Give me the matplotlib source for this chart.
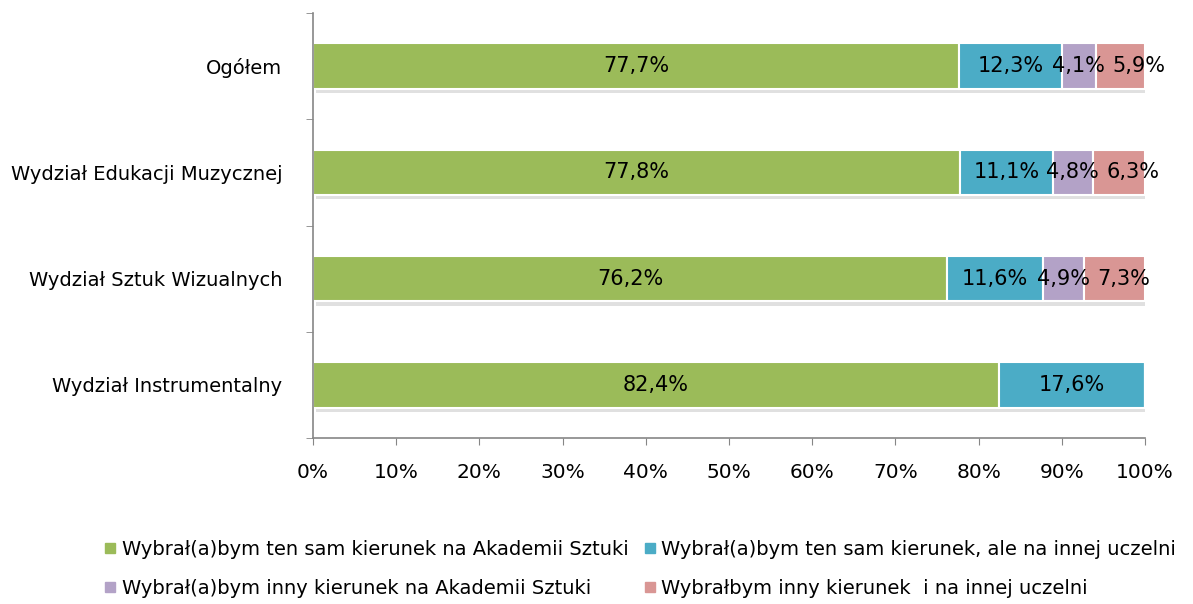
import matplotlib.pyplot as plt
from matplotlib.lines import Line2D
import matplotlib.patheffects as pe
import numpy as np

# dane
kategorie = ['Ogółem', 'Wydział Edukacji Muzycznej', 'Wydział Sztuk Wizualnych', 'Wydział Instrumentalny']
ten_sam_as = [77.7, 77.8, 76.2, 82.4]
ten_sam_inna = [12.3, 11.1, 11.6, 17.6]
inny_as = [4.1, 4.8, 4.9, 0]
inny_inna = [5.9, 6.3, 7.3, 0]

serie = [
    ('Wybrał(a)bym ten sam kierunek na Akademii Sztuki', ten_sam_as, '#9BBB59'),
    ('Wybrał(a)bym ten sam kierunek, ale na innej uczelni', ten_sam_inna, '#4BACC6'),
    ('Wybrał(a)bym inny kierunek na Akademii Sztuki', inny_as, '#B3A2C7'),
    ('Wybrałbym inny kierunek  i na innej uczelni', inny_inna, '#D99694'),
]

plt.rcParams['font.family'] = 'DejaVu Sans'
fig = plt.figure(figsize=(11.93, 6.04), dpi=100)
ax = fig.add_axes([313 / 1193, 1 - 438 / 604, (1145 - 313) / 1193, (438 - 13) / 604])

y = np.arange(len(kategorie))[::-1]
left = np.zeros(len(kategorie))
ostatni_x = np.full(len(kategorie), -100.0)  # pozycja poprzedniej etykiety w wierszu
uchwyty = []
for nazwa, wart, kolor in serie:
    wart = np.array(wart)
    ax.barh(y, wart, left=left, height=0.43, color=kolor, edgecolor='white', linewidth=1.5,
            path_effects=[pe.SimplePatchShadow(offset=(2, -3), alpha=0.12, shadow_rgbFace='black'), pe.Normal()])
    for i, (yi, l, w) in enumerate(zip(y, left, wart)):
        if w > 0:
            xt = max(l + w / 2, ostatni_x[i] + 7.2)  # odsuwanie nachodzacych etykiet
            ax.text(xt, yi, f'{w:.1f}%'.replace('.', ','), ha='center', va='center', fontsize=15, color='black')
            ostatni_x[i] = xt
    left += wart
    uchwyty.append(Line2D([], [], marker='s', color=kolor, linestyle='', markersize=7, label=nazwa))

ax.set_xlim(0, 100)
ax.set_ylim(-0.5, len(kategorie) - 0.5)
ax.set_xticks(np.arange(0, 101, 10))
ax.set_xticklabels([f'{v}%' for v in range(0, 101, 10)], fontsize=14.5)
ax.set_yticks(y)
ax.set_yticklabels(kategorie, fontsize=14)
ax.set_yticks(np.arange(-0.5, len(kategorie), 1), minor=True)
ax.tick_params(axis='y', which='major', length=0, pad=22)
ax.tick_params(axis='y', which='minor', length=5, color='#868686')
ax.tick_params(axis='x', length=5, color='#868686', pad=13)
for s in ['top', 'right']:
    ax.spines[s].set_visible(False)
for s in ['left', 'bottom']:
    ax.spines[s].set_color('#868686')
    ax.spines[s].set_linewidth(1.2)

kolejnosc = [uchwyty[0], uchwyty[2], uchwyty[1], uchwyty[3]]
fig.legend(handles=kolejnosc, loc='center', bbox_to_anchor=(0.535, 0.058), ncol=2, frameon=False,
           fontsize=14, labelspacing=1.0, columnspacing=0.6, handletextpad=0.1, handlelength=1.0)

fig.savefig('out.png', dpi=100)
